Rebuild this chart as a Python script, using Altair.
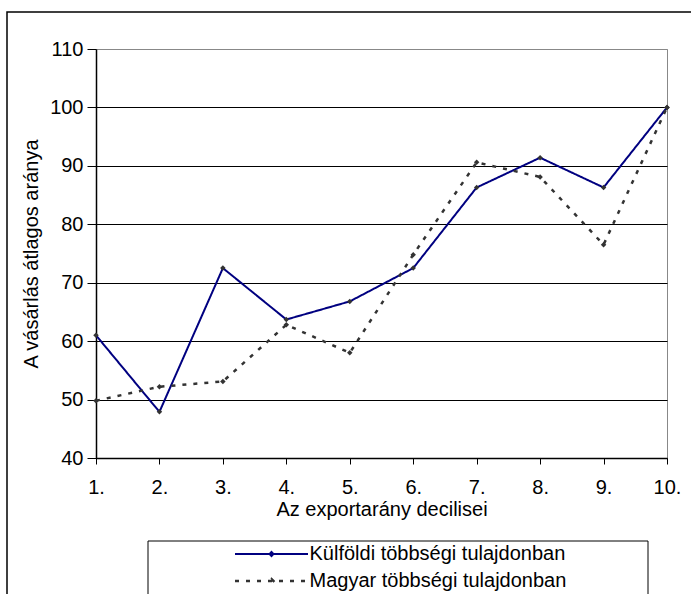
import altair as alt
import pandas as pd

deciles = ["1.", "2.", "3.", "4.", "5.", "6.", "7.", "8.", "9.", "10."]
kulfoldi = [61.0, 47.9, 72.5, 63.7, 66.8, 72.5, 86.3, 91.4, 86.3, 100.0]
magyar = [49.8, 52.2, 53.1, 62.8, 58.0, 74.8, 90.6, 88.1, 76.5, 100.0]
series_names = ["Külföldi többségi tulajdonban", "Magyar többségi tulajdonban"]
y_ticks = [40, 50, 60, 70, 80, 90, 100, 110]

rows = []
for name, vals in zip(series_names, [kulfoldi, magyar]):
    for d, v in zip(deciles, vals):
        rows.append({"decile": d, "value": v, "series": name})
df = pd.DataFrame(rows)

FONT = "Liberation Sans"

legend = alt.Legend(
    title=None,
    orient="none",
    legendX=165.5,
    legendY=495,
    labelFont=FONT,
    labelFontSize=20,
    labelColor="black",
    labelOffset=28,
    symbolType="M-7.3,0H7.3M0,-0.4L0.4,0L0,0.4L-0.4,0Z",
    symbolSize=100,
    symbolStrokeWidth=2,
    rowPadding=7,
    padding=0,
    labelLimit=400,
)

x_enc = alt.X(
    "decile:N",
    sort=deciles,
    scale=alt.Scale(type="point", padding=0),
    axis=alt.Axis(
        title="Az exportarány decilisei",
        labelAngle=0,
        tickSize=6,
        labelPadding=13,
        titlePadding=2,
        grid=False,
    ),
)
y_enc = alt.Y(
    "value:Q",
    scale=alt.Scale(domain=[40, 110], nice=False, zero=False),
    axis=alt.Axis(
        title="A vásárlás átlagos aránya",
        values=y_ticks,
        tickSize=9,
        labelPadding=4,
        titlePadding=8,
        grid=True,
        gridColor={"condition": {"test": "datum.value === 110", "value": "#888888"}, "value": "#000000"},
    ),
)

color_scale = alt.Scale(domain=series_names, range=["#000080", "#333333"])
dash_scale = alt.Scale(domain=series_names, range=[[1, 0], [4, 7]])
width_scale = alt.Scale(domain=series_names, range=[2, 2.5])

lines = alt.Chart(df).mark_line().encode(
    x=x_enc,
    y=y_enc,
    color=alt.Color("series:N", scale=color_scale, legend=legend),
    strokeDash=alt.StrokeDash("series:N", scale=dash_scale, legend=legend),
    strokeWidth=alt.StrokeWidth("series:N", scale=width_scale, legend=None),
)

points = alt.Chart(df).mark_point(shape="diamond", filled=True, size=30, color="#333333", opacity=1).encode(
    x=alt.X("decile:N", sort=deciles),
    y=alt.Y("value:Q"),
)

frame_data = alt.Data(values=[{"k": 1}])
outer = alt.Chart(frame_data).mark_rect(fill="transparent", stroke="black", strokeWidth=1.5).encode(
    x=alt.value(-89), x2=alt.value(720), y=alt.value(-37), y2=alt.value(620)
)
legend_box = alt.Chart(frame_data).mark_rect(fill="white", stroke="black", strokeWidth=1).encode(
    x=alt.value(52), x2=alt.value(552), y=alt.value(492), y2=alt.value(620)
)

chart = alt.layer(outer, legend_box, lines, points).properties(
    width=571,
    height=409,
    background="white",
    autosize=alt.AutoSizeParams(type="none"),
    padding={"left": 96, "top": 49, "right": 24, "bottom": 136},
).configure_view(
    stroke="#888888", strokeWidth=1
).configure_axis(
    labelFont=FONT,
    titleFont=FONT,
    labelFontSize=20,
    titleFontSize=20,
    titleFontWeight="normal",
    labelColor="black",
    titleColor="black",
    domainColor="black",
    tickColor="black",
    domainWidth=1.5,
    gridWidth=1,
)

chart.save("out.html", embed_options={"renderer": "svg", "actions": False})
